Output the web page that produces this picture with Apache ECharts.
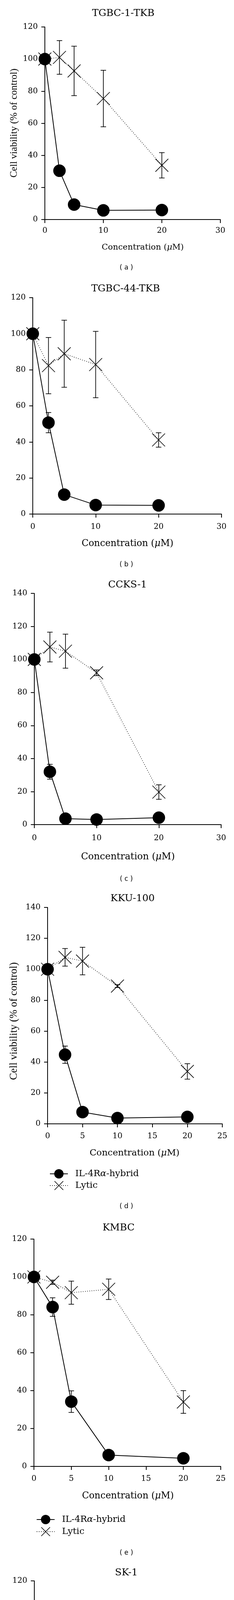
<!DOCTYPE html>
<html>
<head>
<meta charset="utf-8">
<script src="https://cdn.jsdelivr.net/npm/echarts@6/dist/echarts.min.js"></script>
<style>
html,body{margin:0;padding:0;background:#fff;}
#chart{width:600px;height:4874px;}
</style>
</head>
<body>
<div id="chart"></div>
<script>
// ---------- data ----------
const concentrations = [0, 2.5, 5, 10, 20];
const cellLines = ['TGBC-1-TKB', 'TGBC-44-TKB', 'CCKS-1', 'KKU-100', 'KMBC', 'SK-1'];
const panelTags = ['( a )', '( b )', '( c )', '( d )', '( e )', '( f )'];
const seriesNames = ['IL-4Rα-hybrid', 'Lytic'];

const hybridA = [100, 30.4, 9.3, 5.7, 5.9];
const hybridSdA = [0, 1, 1, 0.5, 0.5];
const lyticA = [100, 101, 92.6, 75.4, 33.8];
const lyticSdA = [0, 10.5, 15.4, 17.6, 7.9];

const hybridB = [100, 50.7, 10.8, 5, 4.8];
const hybridSdB = [0, 5.6, 1, 0.5, 0.5];
const lyticB = [100, 82.3, 88.9, 82.9, 41.1];
const lyticSdB = [0, 15.6, 18.6, 18.4, 4];

const hybridC = [100, 32, 3.6, 3.1, 4.2];
const hybridSdC = [0, 4.5, 0.5, 0.5, 0.5];
const lyticC = [100, 107.5, 105, 91.9, 19.7];
const lyticSdC = [0, 9, 10.3, 1.7, 4.4];

const hybridD = [100, 44.7, 7.6, 3.7, 4.5];
const hybridSdD = [0, 5.6, 0.5, 0.5, 0.5];
const lyticD = [100, 107.7, 105.3, 89.1, 33.9];
const lyticSdD = [0, 5.7, 8.9, 0.9, 5];

const hybridE = [100, 84.1, 34.2, 6, 4.3];
const hybridSdE = [0, 4.9, 5.7, 0.5, 0.5];
const lyticE = [100, 97.2, 91.7, 93.5, 34];
const lyticSdE = [0, 1.1, 6.1, 5.4, 6];

const hybridF = [100, 48.9, 18.8, 4.6, 3.2];
const hybridSdF = [0, 6.7, 5.2, 0.5, 0.5];
const lyticF = [100, 84.4, 74.1, 67.9, 11.2];
const lyticSdF = [0, 17.6, 13.1, 12.7, 1];

const xAxisMax = [30, 30, 30, 25, 25, 25];
const xAxisInterval = [10, 10, 10, 5, 5, 5];
const yAxisMax = [120, 120, 140, 140, 120, 120];
const yAxisInterval = 20;

const xAxisTitle = 'Concentration (μM)';
const yAxisTitle = 'Cell viability (% of control)';

// ---------- layout ----------
const hybrids = [hybridA, hybridB, hybridC, hybridD, hybridE, hybridF];
const hybridSds = [hybridSdA, hybridSdB, hybridSdC, hybridSdD, hybridSdE, hybridSdF];
const lytics = [lyticA, lyticB, lyticC, lyticD, lyticE, lyticF];
const lyticSds = [lyticSdA, lyticSdB, lyticSdC, lyticSdD, lyticSdE, lyticSdF];

const layout = [
  {grid: {left: 115, top: 69, width: 450, height: 493}, xMargin: 19, title: [316, 34], xName: [366, 634], xNameSize: 21, tag: [324, 686], yName: [36, 315, 25], legend: null},
  {grid: {left: 84, top: 762, width: 484, height: 554}, xMargin: 23, title: [322, 739], xName: [327, 1392], xNameSize: 23.5, tag: [324, 1446], yName: null, legend: null},
  {grid: {left: 88, top: 1519, width: 479, height: 592}, xMargin: 25, title: [327, 1497], xName: [328, 2194], xNameSize: 24, tag: [324, 2251], yName: null, legend: null},
  {grid: {left: 122, top: 2323, width: 448, height: 554}, xMargin: 22, title: [340, 2300], xName: [345, 2952], xNameSize: 23, tag: [324, 3089], yName: [36, 2614, 27], legend: {left: 122, top: 2988, gap: 6}},
  {grid: {left: 87, top: 3172, width: 479, height: 582}, xMargin: 22, title: [304, 3143], xName: [328, 3830], xNameSize: 23.5, tag: [324, 3976], yName: null, legend: {left: 88, top: 3873, gap: 7}},
  {grid: {left: 88, top: 4047, width: 478, height: 590}, xMargin: 25, title: [324, 4026], xName: [328, 4715], xNameSize: 23.5, tag: [324, 4861], yName: null, legend: {left: 89, top: 4758, gap: 7}}
];

const SERIF = '"DejaVu Serif", serif';
const X_PATH = 'path://M0,0L10,10M10,0L0,10';

function errRender(params, api) {
  const x = api.value(0), lo = api.value(1), hi = api.value(2);
  const p1 = api.coord([x, hi]);
  const p2 = api.coord([x, lo]);
  const w = 7;
  const st = {stroke: '#000', lineWidth: 1.7};
  return {
    type: 'group',
    children: [
      {type: 'line', shape: {x1: p1[0], y1: p1[1], x2: p2[0], y2: p2[1]}, style: st},
      {type: 'line', shape: {x1: p1[0] - w, y1: p1[1], x2: p1[0] + w, y2: p1[1]}, style: st},
      {type: 'line', shape: {x1: p2[0] - w, y1: p2[1], x2: p2[0] + w, y2: p2[1]}, style: st}
    ]
  };
}

function errData(vals, sds) {
  const out = [];
  concentrations.forEach((c, i) => {
    if (sds[i] > 0) out.push([c, vals[i] - sds[i], vals[i] + sds[i]]);
  });
  return out;
}

const grids = [], xAxes = [], yAxes = [], series = [], graphics = [], legends = [];

layout.forEach((L, k) => {
  grids.push(Object.assign({containLabel: false}, L.grid));
  xAxes.push({
    type: 'value', gridIndex: k, min: 0, max: xAxisMax[k], interval: xAxisInterval[k],
    axisLine: {show: true, onZero: false, lineStyle: {color: '#000', width: 2}},
    axisTick: {show: true, length: 9, lineStyle: {color: '#000', width: 2}},
    axisLabel: {color: '#000', fontFamily: SERIF, fontSize: 20, margin: L.xMargin},
    splitLine: {show: false}
  });
  yAxes.push({
    type: 'value', gridIndex: k, min: 0, max: yAxisMax[k], interval: yAxisInterval,
    axisLine: {show: true, onZero: false, lineStyle: {color: '#000', width: 2}},
    axisTick: {show: true, length: 9, lineStyle: {color: '#000', width: 2}},
    axisLabel: {color: '#000', fontFamily: SERIF, fontSize: 20, margin: 18},
    splitLine: {show: false}
  });

  series.push({
    type: 'custom', name: 'hybrid-err', xAxisIndex: k, yAxisIndex: k, z: 1, clip: false,
    renderItem: errRender, encode: {x: 0, y: [1, 2]},
    data: errData(hybrids[k], hybridSds[k]), silent: true
  });
  series.push({
    type: 'custom', name: 'lytic-err', xAxisIndex: k, yAxisIndex: k, z: 2, clip: false,
    renderItem: errRender, encode: {x: 0, y: [1, 2]},
    data: errData(lytics[k], lyticSds[k]), silent: true
  });
  series.push({
    type: 'line', name: seriesNames[1], xAxisIndex: k, yAxisIndex: k, z: 3,
    data: concentrations.map((c, i) => [c, lytics[k][i]]),
    symbol: X_PATH, symbolSize: 33,
    itemStyle: {color: 'rgba(0,0,0,0)', borderColor: '#000', borderWidth: 1.6},
    lineStyle: {color: '#000', width: 1.6, type: [1.6, 4]},
    emphasis: {disabled: true}, silent: true
  });
  series.push({
    type: 'line', name: seriesNames[0], xAxisIndex: k, yAxisIndex: k, z: 4,
    data: concentrations.map((c, i) => [c, hybrids[k][i]]),
    symbol: 'circle', symbolSize: 32,
    itemStyle: {color: '#000', borderWidth: 0},
    lineStyle: {color: '#000', width: 2, type: 'solid'},
    emphasis: {disabled: true}, silent: true
  });

  graphics.push({
    type: 'text', x: L.title[0], y: L.title[1],
    style: {text: cellLines[k], font: '25px ' + SERIF, fill: '#000', align: 'center', verticalAlign: 'middle', textAlign: 'center', textVerticalAlign: 'middle'}
  });
  const fs = L.xNameSize + 'px ';
  graphics.push({
    type: 'text', x: L.xName[0], y: L.xName[1],
    style: {
      text: '{n|Concentration (}{i|μ}{n|M)}',
      rich: {n: {font: fs + SERIF, fill: '#000'}, i: {font: 'italic ' + fs + SERIF, fill: '#000'}},
      align: 'center', verticalAlign: 'middle', textAlign: 'center', textVerticalAlign: 'middle'
    }
  });
  graphics.push({
    type: 'text', x: L.tag[0], y: L.tag[1],
    style: {text: panelTags[k], font: '17px "DejaVu Sans", sans-serif', fill: '#000', align: 'center', verticalAlign: 'middle', textAlign: 'center', textVerticalAlign: 'middle'}
  });
  if (L.yName) {
    graphics.push({
      type: 'text', x: L.yName[0], y: L.yName[1], rotation: Math.PI / 2,
      style: {text: yAxisTitle, font: L.yName[2] + 'px "Liberation Serif", serif', fill: '#000', align: 'center', verticalAlign: 'middle', textAlign: 'center', textVerticalAlign: 'middle'}
    });
  }
  if (L.legend) {
    legends.push({
      orient: 'vertical', left: L.legend.left, top: L.legend.top,
      itemWidth: 46, itemHeight: 28, itemGap: L.legend.gap,
      data: seriesNames, selectedMode: false,
      itemStyle: {borderColor: '#000', borderWidth: 1.6},
      formatter: function (name) {
        return name === seriesNames[0] ? '{n|IL-4R}{i|α}{n|-hybrid}' : '{n|Lytic}';
      },
      textStyle: {
        padding: [0, 0, 0, 14],
        rich: {
          n: {fontFamily: SERIF, fontSize: 23, color: '#000'},
          i: {fontFamily: SERIF, fontStyle: 'italic', fontSize: 23, color: '#000'}
        }
      }
    });
  }
});

const chart = echarts.init(document.getElementById('chart'), null, {renderer: 'canvas'});
chart.setOption({
  animation: false,
  backgroundColor: '#fff',
  grid: grids,
  xAxis: xAxes,
  yAxis: yAxes,
  legend: legends,
  series: series,
  graphic: graphics
});
</script>
</body>
</html>
